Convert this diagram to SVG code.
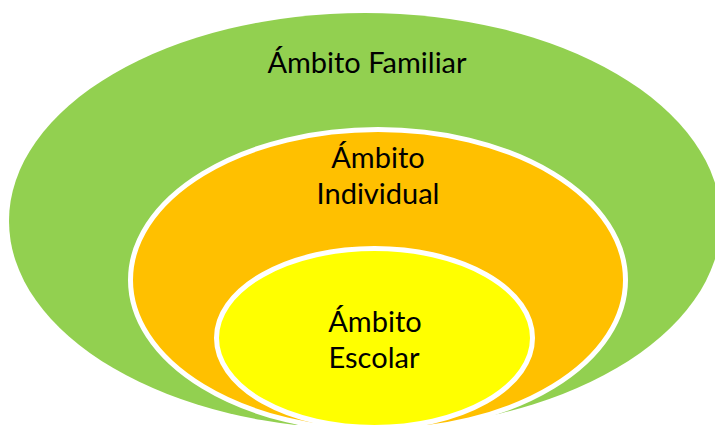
<svg xmlns="http://www.w3.org/2000/svg" width="715" height="425" viewBox="0 0 715 425">
<style>
.lbl{font-family:Lato,"Open Sans","Liberation Sans",sans-serif;font-size:29px;fill:#000;text-anchor:middle}
.ring{stroke:#fff;stroke-width:5}
</style>
<rect width="715" height="425" fill="#fff"/>
<g id="familiar">
<ellipse cx="365" cy="221" rx="356" ry="208" fill="#92D050"/>
<text class="lbl" x="367" y="73">Ámbito Familiar</text>
</g>
<g id="individual">
<ellipse class="ring" cx="378" cy="280" rx="247.5" ry="150.5" fill="#FFC000"/>
<text class="lbl" x="378" y="168">Ámbito</text>
<text class="lbl" x="378" y="204">Individual</text>
</g>
<g id="escolar">
<ellipse class="ring" cx="374.5" cy="338" rx="158" ry="89.5" fill="#FFFF00"/>
<text class="lbl" x="375" y="332">Ámbito</text>
<text class="lbl" x="374" y="368">Escolar</text>
</g>
<g id="connectors"/>
</svg>
